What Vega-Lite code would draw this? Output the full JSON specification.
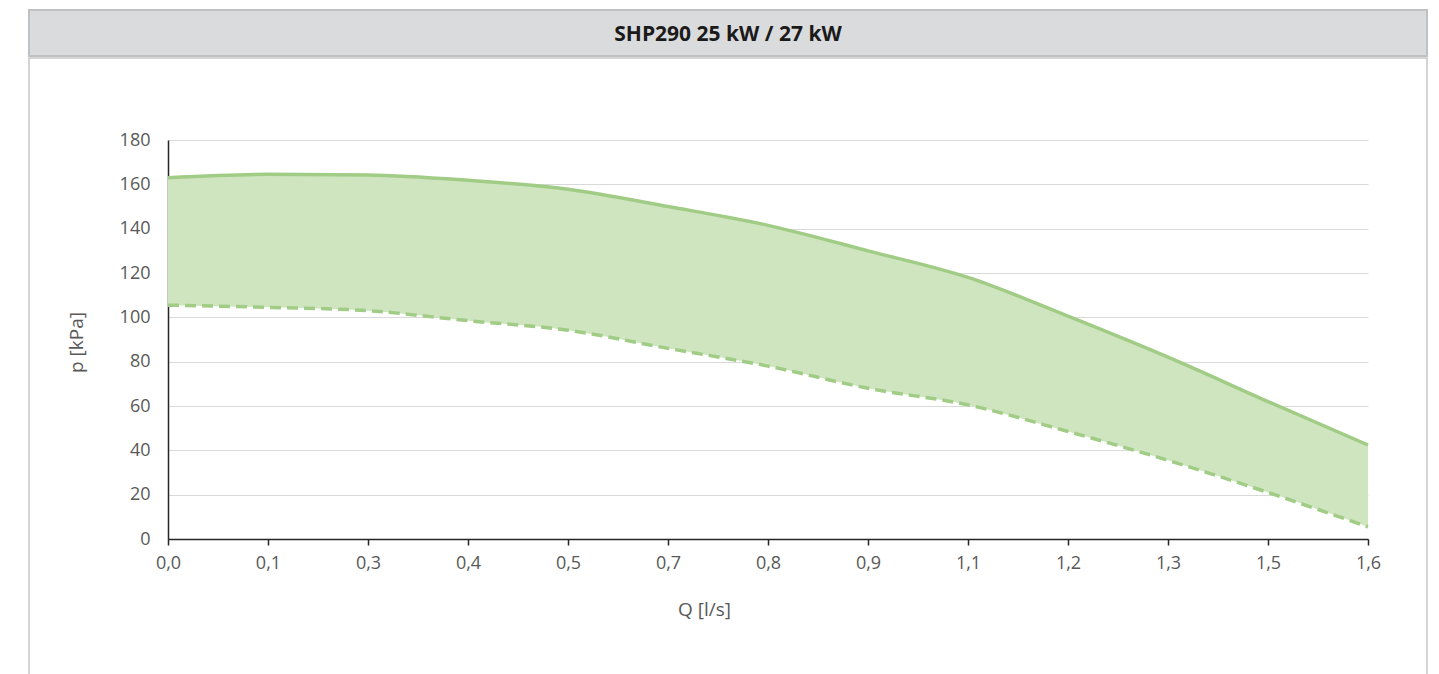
{
  "$schema": "https://vega.github.io/schema/vega-lite/v6.json",
  "padding": {"left": 28, "top": 9, "right": 13, "bottom": 0},
  "spacing": 0,
  "background": "white",
  "config": {"font": "Open Sans"},
  "datasets": {
    "curve": [
      {"q": 0, "upper": 163, "lower": 105.5},
      {"q": 0.1333333, "upper": 164.5, "lower": 104.5},
      {"q": 0.2666667, "upper": 164.2, "lower": 103},
      {"q": 0.4, "upper": 161.8, "lower": 98.5},
      {"q": 0.5333333, "upper": 157.8, "lower": 94.2},
      {"q": 0.6666667, "upper": 150, "lower": 86},
      {"q": 0.8, "upper": 141.5, "lower": 78},
      {"q": 0.9333333, "upper": 130, "lower": 68},
      {"q": 1.0666667, "upper": 118, "lower": 60.5},
      {"q": 1.2, "upper": 100.5, "lower": 48.5},
      {"q": 1.3333333, "upper": 82, "lower": 35.5},
      {"q": 1.4666667, "upper": 62, "lower": 21},
      {"q": 1.6, "upper": 42.4, "lower": 5.5}
    ],
    "heading": [{"label": "SHP290 25 kW / 27 kW"}]
  },
  "vconcat": [
    {
      "width": 1398,
      "height": 46,
      "view": {"fill": "#dadbdd", "stroke": "#c0c1c3", "strokeWidth": 2},
      "data": {"name": "heading"},
      "mark": {"type": "text", "font": "Open Sans", "fontWeight": "bold", "fontSize": 21, "color": "#1a1a1a", "baseline": "middle", "dy": 2},
      "encoding": {"text": {"field": "label"}}
    },
    {
      "width": 1398,
      "height": 630,
      "view": {"fill": "white", "stroke": "#c8c8c8", "strokeWidth": 1.5},
      "data": {"name": "curve"},
      "encoding": {
        "x": {
          "field": "q",
          "type": "quantitative",
          "scale": {"domain": [0, 1.6], "range": [139, 1339], "nice": false, "zero": false},
          "axis": {
            "values": [0, 0.1333333, 0.2666667, 0.4, 0.5333333, 0.6666667, 0.8, 0.9333333, 1.0666667, 1.2, 1.3333333, 1.4666667, 1.6],
            "labelExpr": "replace(format(datum.value, '.1f'), '.', ',')",
            "offset": -149,
            "grid": false,
            "domainColor": "#262626",
            "domainWidth": 1.5,
            "tickColor": "#262626",
            "tickWidth": 1.5,
            "tickSize": 6,
            "labelFont": "Open Sans",
            "labelFontSize": 18,
            "labelColor": "#595959",
            "labelPadding": 9,
            "labelFlush": false,
            "labelOverlap": false,
            "title": "Q [l/s]",
            "titleFont": "Open Sans",
            "titleFontSize": 19,
            "titleFontWeight": "normal",
            "titleColor": "#595959",
            "titleX": 675,
            "titleY": 70,
            "titleBaseline": "middle",
            "titleAlign": "center"
          }
        }
      },
      "layer": [
        {
          "mark": {"type": "area", "interpolate": "monotone", "color": "#cfe5c0"},
          "encoding": {
            "y": {
              "field": "upper",
              "type": "quantitative",
              "scale": {"domain": [0, 180], "range": [481, 82], "nice": false},
              "axis": {
                "values": [0, 20, 40, 60, 80, 100, 120, 140, 160, 180],
                "offset": -139,
                "grid": true,
                "gridColor": "#d9d9d9",
                "gridWidth": 1,
                "ticks": false,
                "tickSize": 0,
                "domainColor": "#262626",
                "domainWidth": 1.5,
                "labelFont": "Open Sans",
                "labelFontSize": 18,
                "labelColor": "#595959",
                "labelPadding": 18,
                "labelOverlap": false,
                "labelFlush": false,
                "title": "p [kPa]",
                "titleFont": "Open Sans",
                "titleFontSize": 19,
                "titleFontWeight": "normal",
                "titleColor": "#595959",
                "titleX": -92,
                "titleY": 284,
                "titleAngle": 270,
                "titleBaseline": "middle",
                "titleAlign": "center"
              }
            },
            "y2": {"field": "lower"}
          }
        },
        {
          "mark": {"type": "line", "interpolate": "monotone", "color": "#a1cc85", "strokeWidth": 3.5},
          "encoding": {"y": {"field": "upper", "type": "quantitative"}}
        },
        {
          "mark": {"type": "line", "interpolate": "monotone", "color": "#a1cc85", "strokeWidth": 3.5, "strokeDash": [11, 6]},
          "encoding": {"y": {"field": "lower", "type": "quantitative"}}
        }
      ]
    }
  ]
}
